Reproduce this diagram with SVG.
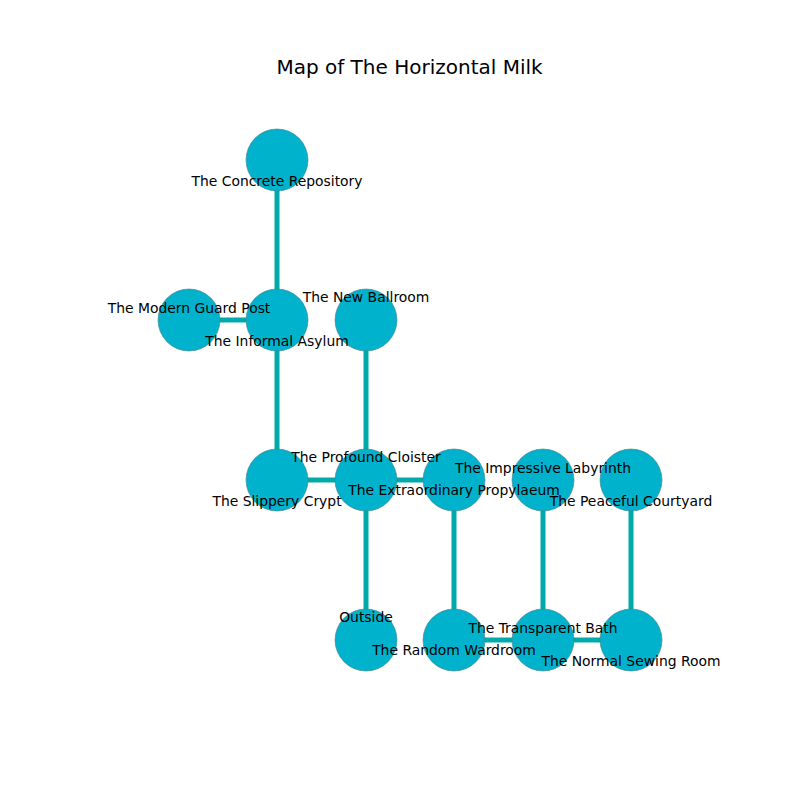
<svg xmlns="http://www.w3.org/2000/svg" width="800" height="800" viewBox="0 0 800 800">
<style>
.n circle{fill:#00b2cc;stroke:#4d7f88;stroke-width:0.6}
.e line{stroke:#00aaaa;stroke-width:5}
text{font-family:"DejaVu Sans",sans-serif;font-size:13.9px;fill:#000;text-anchor:middle;dominant-baseline:central}
.t{font-size:20px}
</style>
<rect width="800" height="800" fill="#fff"/>
<text class="t" x="409.5" y="67">Map of The Horizontal Milk</text>
<g id="connectors" class="e">
<line x1="277" y1="160" x2="277" y2="320"/>
<line x1="189" y1="320" x2="277" y2="320"/>
<line x1="277" y1="320" x2="277" y2="480"/>
<line x1="366" y1="320" x2="366" y2="480"/>
<line x1="277" y1="480" x2="366" y2="480"/>
<line x1="366" y1="480" x2="454" y2="480"/>
<line x1="366" y1="480" x2="366" y2="640"/>
<line x1="454" y1="480" x2="454" y2="640"/>
<line x1="454" y1="640" x2="543" y2="640"/>
<line x1="543" y1="640" x2="631" y2="640"/>
<line x1="543" y1="480" x2="543" y2="640"/>
<line x1="631" y1="480" x2="631" y2="640"/>
</g>
<g id="concrete-repository" class="n"><circle cx="277" cy="160" r="31"/></g>
<g id="modern-guard-post" class="n"><circle cx="189" cy="320" r="31"/></g>
<g id="informal-asylum" class="n"><circle cx="277" cy="320" r="31"/></g>
<g id="new-ballroom" class="n"><circle cx="366" cy="320" r="31"/></g>
<g id="slippery-crypt" class="n"><circle cx="277" cy="480" r="31"/></g>
<g id="profound-cloister" class="n"><circle cx="366" cy="480" r="31"/></g>
<g id="extraordinary-propylaeum" class="n"><circle cx="454" cy="480" r="31"/></g>
<g id="impressive-labyrinth" class="n"><circle cx="543" cy="480" r="31"/></g>
<g id="peaceful-courtyard" class="n"><circle cx="631" cy="480" r="31"/></g>
<g id="outside" class="n"><circle cx="366" cy="640" r="31"/></g>
<g id="random-wardroom" class="n"><circle cx="454" cy="640" r="31"/></g>
<g id="transparent-bath" class="n"><circle cx="543" cy="640" r="31"/></g>
<g id="normal-sewing-room" class="n"><circle cx="631" cy="640" r="31"/></g>
<g id="labels">
<text x="277" y="181">The Concrete Repository</text>
<text x="189" y="308">The Modern Guard Post</text>
<text x="277" y="341">The Informal Asylum</text>
<text x="366" y="297">The New Ballroom</text>
<text x="277" y="501">The Slippery Crypt</text>
<text x="366" y="457">The Profound Cloister</text>
<text x="454" y="490">The Extraordinary Propylaeum</text>
<text x="543" y="468">The Impressive Labyrinth</text>
<text x="631" y="501">The Peaceful Courtyard</text>
<text x="366" y="617">Outside</text>
<text x="454" y="650">The Random Wardroom</text>
<text x="543" y="628">The Transparent Bath</text>
<text x="631" y="661">The Normal Sewing Room</text>
</g>
</svg>
